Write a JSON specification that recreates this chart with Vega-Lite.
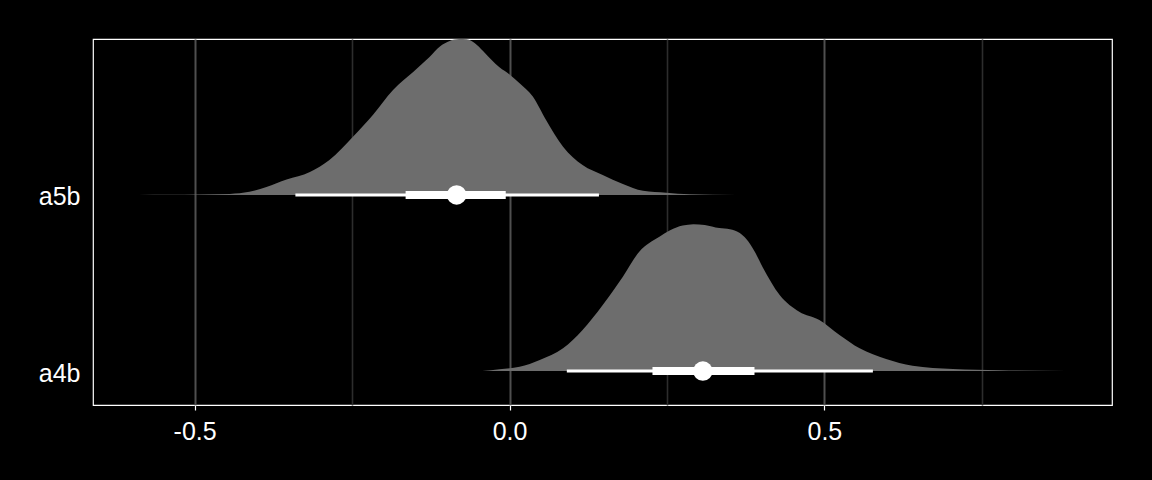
{
  "$schema": "https://vega.github.io/schema/vega-lite/v6.json",
  "width": 1019,
  "height": 366,
  "autosize": {"type": "none"},
  "padding": {"left": 93, "top": 39, "right": 40, "bottom": 75},
  "background": "black",
  "config": {
    "view": {"stroke": "white", "strokeWidth": 1.2},
    "font": "Liberation Sans"
  },
  "datasets": {
    "dens": [
      {"g": "a5b", "x": -0.589, "d": 0},
      {"g": "a5b", "x": -0.540, "d": 0.001},
      {"g": "a5b", "x": -0.492, "d": 0.003},
      {"g": "a5b", "x": -0.444, "d": 0.006},
      {"g": "a5b", "x": -0.413, "d": 0.018},
      {"g": "a5b", "x": -0.386, "d": 0.045},
      {"g": "a5b", "x": -0.354, "d": 0.088},
      {"g": "a5b", "x": -0.317, "d": 0.131},
      {"g": "a5b", "x": -0.286, "d": 0.199},
      {"g": "a5b", "x": -0.249, "d": 0.330},
      {"g": "a5b", "x": -0.217, "d": 0.455},
      {"g": "a5b", "x": -0.185, "d": 0.597},
      {"g": "a5b", "x": -0.153, "d": 0.699},
      {"g": "a5b", "x": -0.127, "d": 0.784},
      {"g": "a5b", "x": -0.110, "d": 0.845},
      {"g": "a5b", "x": -0.095, "d": 0.875},
      {"g": "a5b", "x": -0.080, "d": 0.886},
      {"g": "a5b", "x": -0.068, "d": 0.885},
      {"g": "a5b", "x": -0.055, "d": 0.862},
      {"g": "a5b", "x": -0.042, "d": 0.818},
      {"g": "a5b", "x": -0.028, "d": 0.765},
      {"g": "a5b", "x": -0.016, "d": 0.725},
      {"g": "a5b", "x": 0.000, "d": 0.685},
      {"g": "a5b", "x": 0.016, "d": 0.635},
      {"g": "a5b", "x": 0.037, "d": 0.559},
      {"g": "a5b", "x": 0.058, "d": 0.426},
      {"g": "a5b", "x": 0.085, "d": 0.274},
      {"g": "a5b", "x": 0.116, "d": 0.170},
      {"g": "a5b", "x": 0.148, "d": 0.114},
      {"g": "a5b", "x": 0.180, "d": 0.063},
      {"g": "a5b", "x": 0.212, "d": 0.024},
      {"g": "a5b", "x": 0.249, "d": 0.013},
      {"g": "a5b", "x": 0.286, "d": 0.004},
      {"g": "a5b", "x": 0.360, "d": 0},
      {"g": "a4b", "x": -0.043, "d": 0},
      {"g": "a4b", "x": -0.016, "d": 0.010},
      {"g": "a4b", "x": 0.016, "d": 0.024},
      {"g": "a4b", "x": 0.048, "d": 0.063},
      {"g": "a4b", "x": 0.085, "d": 0.129},
      {"g": "a4b", "x": 0.116, "d": 0.233},
      {"g": "a4b", "x": 0.148, "d": 0.375},
      {"g": "a4b", "x": 0.180, "d": 0.536},
      {"g": "a4b", "x": 0.206, "d": 0.678},
      {"g": "a4b", "x": 0.238, "d": 0.763},
      {"g": "a4b", "x": 0.255, "d": 0.800},
      {"g": "a4b", "x": 0.275, "d": 0.826},
      {"g": "a4b", "x": 0.292, "d": 0.834},
      {"g": "a4b", "x": 0.310, "d": 0.830},
      {"g": "a4b", "x": 0.333, "d": 0.812},
      {"g": "a4b", "x": 0.350, "d": 0.805},
      {"g": "a4b", "x": 0.365, "d": 0.785},
      {"g": "a4b", "x": 0.376, "d": 0.750},
      {"g": "a4b", "x": 0.389, "d": 0.680},
      {"g": "a4b", "x": 0.402, "d": 0.590},
      {"g": "a4b", "x": 0.429, "d": 0.432},
      {"g": "a4b", "x": 0.460, "d": 0.337},
      {"g": "a4b", "x": 0.492, "d": 0.290},
      {"g": "a4b", "x": 0.524, "d": 0.205},
      {"g": "a4b", "x": 0.556, "d": 0.129},
      {"g": "a4b", "x": 0.598, "d": 0.068},
      {"g": "a4b", "x": 0.640, "d": 0.030},
      {"g": "a4b", "x": 0.704, "d": 0.011},
      {"g": "a4b", "x": 0.778, "d": 0.004},
      {"g": "a4b", "x": 0.884, "d": 0}
    ],
    "intervals": [
      {"g": "a5b", "med": -0.084, "lo66": -0.165, "hi66": -0.006, "lo95": -0.340, "hi95": 0.142},
      {"g": "a4b", "med": 0.307, "lo66": 0.227, "hi66": 0.389, "lo95": 0.091, "hi95": 0.577}
    ]
  },
  "layer": [
    {
      "data": {"name": "dens"},
      "transform": [
        {"calculate": "datum.g === 'a5b' ? 2 : 1", "as": "base"},
        {"calculate": "datum.base + datum.d", "as": "top"}
      ],
      "mark": {"type": "area", "interpolate": "monotone", "color": "#6d6d6d"},
      "encoding": {
        "x": {
          "field": "x", "type": "quantitative",
          "scale": {"domain": [-0.6614, 0.9567], "nice": false, "zero": false},
          "axis": {
            "values": [-0.5, -0.25, 0, 0.25, 0.5, 0.75],
            "title": null,
            "domain": false,
            "grid": true,
            "gridColor": {"condition": {"test": "abs(datum.value % 0.5) < 0.001", "value": "#4f4f4f"}, "value": "#2d2d2d"},
            "gridWidth": {"condition": {"test": "abs(datum.value % 0.5) < 0.001", "value": 2}, "value": 1.6},
            "tickColor": {"condition": {"test": "abs(datum.value % 0.5) < 0.001", "value": "white"}, "value": "transparent"},
            "tickSize": 5,
            "tickWidth": 1.2,
            "labelExpr": "abs(datum.value % 0.5) < 0.001 ? replace(format(datum.value, '.1f'), '\u2212', '-') : ''",
            "labelColor": "white",
            "labelFontSize": 25,
            "labelPadding": 9
          }
        },
        "y": {
          "field": "top", "type": "quantitative",
          "scale": {"domain": [0.807, 2.886], "nice": false, "zero": false},
          "axis": {
            "values": [1, 2],
            "title": null,
            "domain": false,
            "grid": false,
            "ticks": false,
            "labelExpr": "datum.value == 2 ? 'a5b' : 'a4b'",
            "labelColor": "white",
            "labelFontSize": 25,
            "labelPadding": 13,
            "labelOffset": 2
          }
        },
        "y2": {"field": "base"},
        "detail": {"field": "g"}
      }
    },
    {
      "data": {"name": "intervals"},
      "transform": [{"calculate": "datum.g === 'a5b' ? 2 : 1", "as": "base"}],
      "mark": {"type": "rule", "color": "white", "strokeWidth": 3},
      "encoding": {
        "x": {"field": "lo95", "type": "quantitative"},
        "x2": {"field": "hi95"},
        "y": {"field": "base", "type": "quantitative"}
      }
    },
    {
      "data": {"name": "intervals"},
      "transform": [{"calculate": "datum.g === 'a5b' ? 2 : 1", "as": "base"}],
      "mark": {"type": "rule", "color": "white", "strokeWidth": 8},
      "encoding": {
        "x": {"field": "lo66", "type": "quantitative"},
        "x2": {"field": "hi66"},
        "y": {"field": "base", "type": "quantitative"}
      }
    },
    {
      "data": {"name": "intervals"},
      "transform": [{"calculate": "datum.g === 'a5b' ? 2 : 1", "as": "base"}],
      "mark": {"type": "point", "shape": "circle", "filled": true, "color": "white", "opacity": 1, "size": 380},
      "encoding": {
        "x": {"field": "med", "type": "quantitative"},
        "y": {"field": "base", "type": "quantitative"}
      }
    }
  ]
}
